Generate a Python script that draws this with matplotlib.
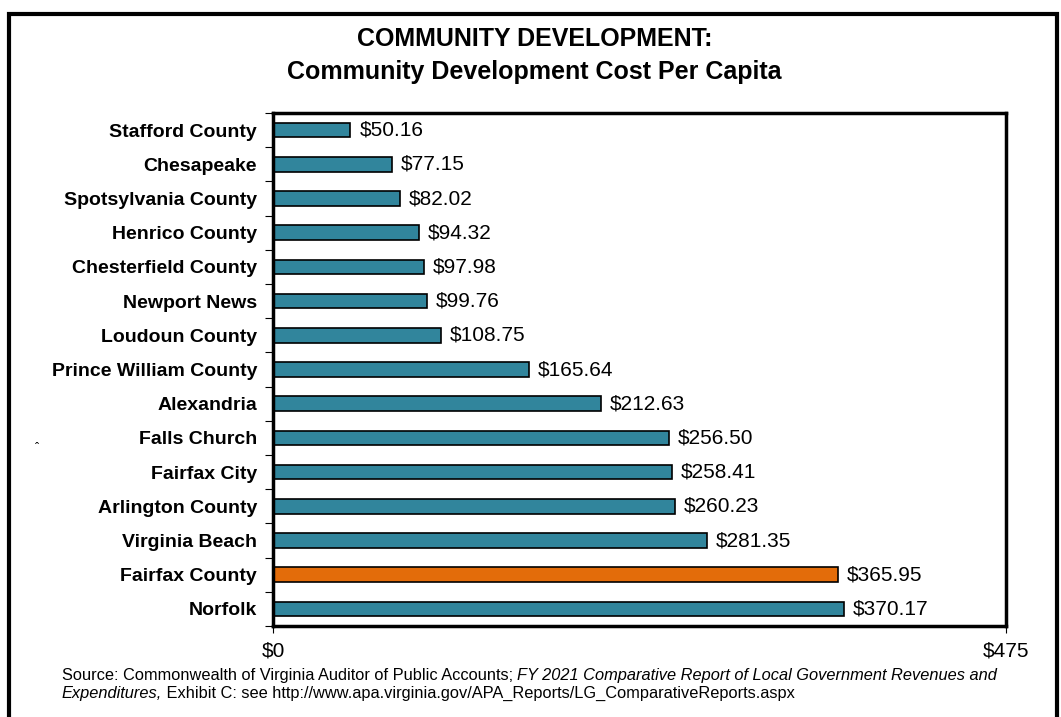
import matplotlib.pyplot as plt
from matplotlib.patches import Rectangle

localities = ["Stafford County", "Chesapeake", "Spotsylvania County", "Henrico County",
              "Chesterfield County", "Newport News", "Loudoun County", "Prince William County",
              "Alexandria", "Falls Church", "Fairfax City", "Arlington County",
              "Virginia Beach", "Fairfax County", "Norfolk"]
cost_per_capita = [50.16, 77.15, 82.02, 94.32, 97.98, 99.76, 108.75, 165.64,
                   212.63, 256.50, 258.41, 260.23, 281.35, 365.95, 370.17]
highlight = "Fairfax County"
x_max = 475

teal = "#31859C"
orange = "#E36C0A"
font = "Liberation Sans"

fig = plt.figure(figsize=(10.61, 7.17), dpi=100)
ax = fig.add_axes([0.2573, 0.1269, 0.6908, 0.7155])

colors = [orange if n == highlight else teal for n in localities]
y = list(range(len(localities)))
ax.barh(y, cost_per_capita, height=0.43, color=colors, edgecolor="black", linewidth=1.2)

for yi, v in zip(y, cost_per_capita):
    ax.annotate(f"${v:,.2f}", xy=(v, yi), xytext=(6.5, 0), textcoords="offset points",
                va="center", ha="left", fontsize=15, family=font)

ax.set_xlim(0, x_max)
ax.set_ylim(len(localities) - 0.5, -0.5)
ax.set_xticks([0, x_max])
ax.set_xticklabels(["$0", f"${x_max}"], fontsize=15, family=font)
ax.tick_params(axis="x", length=5, width=0.8, pad=6)

ax.set_yticks([i + 0.5 for i in range(-1, len(localities))])
ax.set_yticklabels([])
ax.set_yticks(y, minor=True)
ax.set_yticklabels(localities, minor=True, fontsize=14, fontweight="bold", family=font)
ax.tick_params(axis="y", which="major", length=6, width=0.8)
ax.tick_params(axis="y", which="minor", length=0, pad=11.5)

for s in ax.spines.values():
    s.set_linewidth(2.5)

fig.text(0.504, 0.945, "COMMUNITY DEVELOPMENT:", ha="center", va="center",
         fontsize=18, fontweight="bold", family=font)
fig.text(0.504, 0.899, "Community Development Cost Per Capita", ha="center", va="center",
         fontsize=18, fontweight="bold", family=font)

fig.text(0.033, 0.370, "ˆ", fontsize=9, family=font)

# source note, mixed normal / italic
src_size = 11.75
t1 = fig.text(0.058, 0.051, "Source: Commonwealth of Virginia Auditor of Public Accounts; ",
              fontsize=src_size, family=font, va="baseline")
fig.canvas.draw()
ax.annotate("FY 2021 Comparative Report of Local Government Revenues and", xy=(1, 0),
            xycoords=t1, fontsize=src_size, family=font, style="italic", va="bottom")
t3 = fig.text(0.058, 0.026, "Expenditures,", fontsize=src_size, family=font,
              style="italic", va="baseline")
ax.annotate(" Exhibit C: see http://www.apa.virginia.gov/APA_Reports/LG_ComparativeReports.aspx",
            xy=(1, 0), xycoords=t3, fontsize=src_size, family=font, va="bottom")

fig.add_artist(Rectangle((0.0085, -0.02), 0.988, 1.0, transform=fig.transFigure,
                         fill=False, edgecolor="black", linewidth=3))

fig.savefig("out.png", dpi=100)
